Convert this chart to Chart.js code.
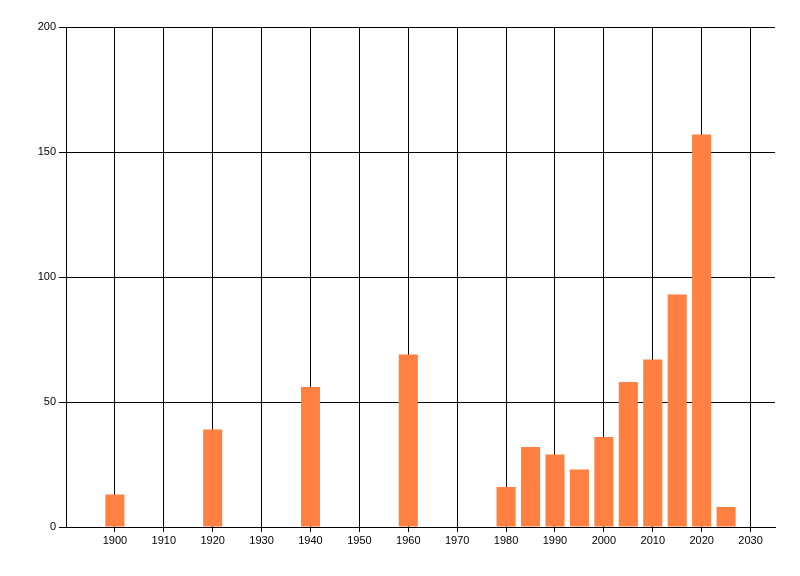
<!DOCTYPE html>
<html>
<head>
<meta charset="utf-8">
<script src="https://cdn.jsdelivr.net/npm/chart.js@4.4.1/dist/chart.umd.min.js"></script>
<style>
  body { margin: 0; background: #fff; }
  canvas { display: block; }
</style>
</head>
<body>
<canvas id="myChart" width="800" height="576"></canvas>
<script>
// years and counts
var years  = [1900, 1920, 1940, 1960, 1980, 1985, 1990, 1995, 2000, 2005, 2010, 2015, 2020, 2025];
var counts = [13,   39,   56,   69,   16,   32,   29,   23,   36,   58,   67,   93,   157,  8];
var xTicks = [1900, 1910, 1920, 1930, 1940, 1950, 1960, 1970, 1980, 1990, 2000, 2010, 2020, 2030];
var yTicks = [0, 50, 100, 150, 200];

var points = years.map(function (y, i) { return { x: y, y: counts[i] }; });

var ctx = document.getElementById('myChart').getContext('2d');
new Chart(ctx, {
    type: 'bar',
    data: {
        datasets: [{
            data: points,
            backgroundColor: 'rgb(255,128,64)',
            borderWidth: 0,
            categoryPercentage: 1,
            barPercentage: 0.78
        }]
    },
    options: {
        responsive: false,
        animation: false,
        layout: { padding: { top: 27, right: 25, left: 0, bottom: 0 } },
        plugins: {
            legend: { display: false },
            tooltip: { enabled: false }
        },
        scales: {
            x: {
                type: 'linear',
                min: 1890,
                max: 2035,
                offset: false,
                afterBuildTicks: function (scale) {
                    scale.ticks = xTicks.map(function (v) { return { value: v }; });
                },
                afterFit: function (scale) { scale.height = 49; },
                grid: { offset: false, color: '#000', lineWidth: 1, tickLength: 5 },
                border: { color: '#000', width: 1 },
                ticks: {
                    color: '#000',
                    padding: 2,
                    maxRotation: 0,
                    font: { family: 'Liberation Sans', size: 11 },
                    callback: function (v) { return String(v); }
                }
            },
            y: {
                min: 0,
                max: 200,
                afterBuildTicks: function (scale) {
                    scale.ticks = yTicks.map(function (v) { return { value: v }; });
                },
                afterFit: function (scale) { scale.width = 66; },
                grid: { color: '#000', lineWidth: 1, tickLength: 7 },
                border: { color: '#000', width: 1 },
                ticks: {
                    color: '#000',
                    padding: 3,
                    font: { family: 'Liberation Sans', size: 11 }
                }
            }
        }
    }
});
</script>
</body>
</html>
